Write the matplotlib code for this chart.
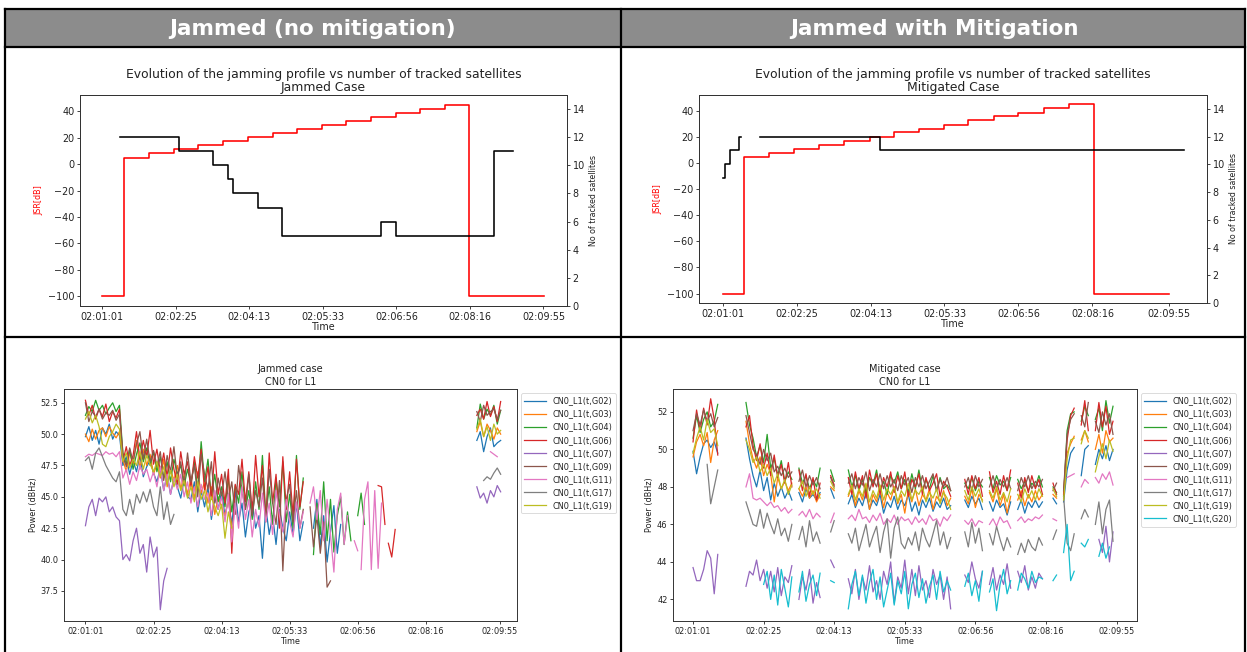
import numpy as np
import matplotlib
matplotlib.use("Agg")
import matplotlib.pyplot as plt
from matplotlib.patches import Rectangle
from matplotlib.lines import Line2D

N = None

# ---------------- data ----------------
time_labels = ['02:01:01', '02:02:25', '02:04:13', '02:05:33', '02:06:56', '02:08:16', '02:09:55']

header_left = 'Jammed (no mitigation)'
header_right = 'Jammed with Mitigation'

# JSR profile (left axis), step breakpoints (x in tick units) and levels
jsr_levels = [-100, 5, 8.1, 11.1, 14.2, 17.3, 20.4, 23.5, 26.5, 29.6, 32.7, 35.8, 38.8, 41.9, 45, -100, -100]
jsr_x_jam = [0, 0.303, 0.643, 0.983, 1.304, 1.649, 1.988, 2.319, 2.649, 2.989, 3.319, 3.650, 3.990, 4.321, 4.656, 4.991, 6.005]
jsr_x_mit = [0, 0.294, 0.628, 0.971, 1.300, 1.644, 1.987, 2.313, 2.656, 2.990, 3.324, 3.663, 4.000, 4.340, 4.680, 5.018, 6.040]

# number of tracked satellites (right axis)
sat_x_jam = [0.249, 1.046, 1.513, 1.707, 1.775, 2.120, 2.446, 3.786, 3.990, 5.326, 5.589]
sat_n_jam = [12, 11, 10, 9, 8, 7, 5, 6, 5, 11, 11]
sat_x_mit_a = [0.0, 0.036, 0.100, 0.217, 0.244]
sat_n_mit_a = [9, 10, 11, 12, 12]
sat_x_mit_b = [0.506, 2.130, 6.240]
sat_n_mit_b = [12, 11, 11]

# CN0 series: list of (segment start, values every 0.05 tick units)
sample_step = 0.05
prn_jam = ['G02', 'G03', 'G04', 'G06', 'G07', 'G09', 'G11', 'G17', 'G19']
prn_mit = ['G02', 'G03', 'G04', 'G06', 'G07', 'G09', 'G11', 'G17', 'G19', 'G20']

jam_G02 = [(0.00, [49.8, 50.6, 49.5, 50.3, 49.2, 50.5, 50.0, 50.8, 49.6, 50.2, 49.9,
                   47.5, 48.2, 46.8, 47.9, 47.0, 48.3, 46.6, 47.4, 47.9, 46.9,
                   46.2, 47.3, 45.5, 46.8, 45.2, 46.5, 45.8, 44.9, 46.4, 45.0,
                   44.8, 46.2, 43.8, 45.5, 44.2, 45.8, 43.2, 45.0, 44.0, 45.4,
                   43.5, 44.8, 42.8, 45.5, 43.0, 44.5, 41.8, 43.8, 44.6, 42.5,
                   43.5, 40.1, 44.2, 42.0, 43.5, 41.2, 44.0, 42.5, 41.5, 43.8,
                   42.0, 44.5, 41.5, 43.0]),
           (3.35, [42.5, 44.8, 41.0, 43.5, 39.8, 42.2, 44.3, 40.5, 42.8]),
           (5.75, [49.5, 50.2, 48.6, 49.8, 50.5, 49.0, 49.3, 49.5])]
jam_G03 = [(0.00, [50.0, 49.4, 50.4, 49.6, 50.3, 50.5, 49.8, 50.6, 50.1, 49.7, 50.2,
                   48.0, 47.0, 48.5, 47.6, 49.5, 47.2, 48.8, 47.5, 48.4, 46.8,
                   47.6, 46.5, 48.0, 45.8, 47.2, 46.3, 47.5, 45.6, 46.8, 45.2,
                   46.5, 44.8, 47.0, 45.3, 46.2, 44.5, 45.8, 43.6, 45.0, 44.2,
                   43.5, 44.8, 42.6]),
           (5.75, [50.2, 51.0, 49.8, 50.8, 50.3, 49.6, 50.5, 50.0])]
jam_G04 = [(0.00, [51.5, 52.2, 51.8, 52.7, 51.9, 52.3, 51.6, 52.1, 52.5, 51.8, 52.3,
                   48.5, 47.6, 48.8, 47.2, 48.4, 49.3, 47.8, 48.9, 47.5, 48.6,
                   47.0, 48.2, 46.5, 47.8, 46.2, 48.0, 46.8, 47.5, 45.9, 47.2,
                   46.0, 47.8, 45.5, 49.4, 46.2, 48.0, 45.0, 46.8, 44.6, 45.8,
                   44.2, 46.5, 43.8, 45.9, 44.5, 47.0, 44.0, 45.5, 43.2, 46.2,
                   44.0, 48.3, 43.5, 45.8, 42.8, 46.5, 44.2, 47.8, 43.0, 45.2,
                   42.5, 48.3, 44.0, 46.5]),
           (3.35, [40.4, 44.5, 42.0, 46.2, 41.5, 44.8, 40.6, 43.5, 45.0, 41.2, 43.8, 41.5]),
           (4.00, [43.5, 45.3, 42.8]),
           (5.75, [50.5, 52.4, 51.2, 52.0, 51.5, 52.3, 50.8, 51.9])]
jam_G06 = [(0.00, [52.7, 51.5, 52.3, 51.2, 52.0, 51.4, 52.4, 51.0, 51.8, 51.3, 52.0,
                   47.8, 49.0, 47.5, 48.3, 50.2, 48.0, 49.5, 48.2, 50.3, 47.6,
                   48.8, 47.0, 48.5, 46.6, 48.9, 47.2, 46.0, 48.6, 46.8, 47.8,
                   45.8, 48.2, 46.5, 48.8, 45.5, 47.4, 44.8, 48.6, 45.2, 46.8,
                   44.5, 47.2, 40.5, 46.0, 45.2, 48.0, 44.6, 47.0, 43.8, 48.3,
                   45.0, 47.5, 43.2, 48.5, 44.5, 46.8, 42.5, 48.2, 44.0, 47.0,
                   43.5, 48.0, 44.2, 46.2]),
           (4.30, [45.9, 45.8, 42.8]),
           (4.45, [41.3, 40.2, 42.4]),
           (5.75, [51.5, 52.0, 51.2, 52.6, 51.4, 52.2, 51.0, 52.6])]
jam_G07 = [(0.00, [42.7, 44.2, 44.8, 43.5, 44.9, 44.6, 45.0, 43.8, 44.2, 43.4, 43.1,
                   40.0, 40.4, 39.9, 41.5, 42.5, 40.5, 41.2, 39.0, 41.8, 40.2,
                   41.0, 36.0, 38.3, 39.3]),
           (5.75, [45.8, 44.9, 45.3, 44.5, 45.5, 45.0, 45.9, 45.4])]
jam_G09 = [(0.00, [52.5, 51.0, 51.8, 51.4, 52.0, 51.2, 51.7, 51.5, 51.9, 51.1, 51.6,
                   48.5, 47.4, 48.9, 47.8, 49.2, 50.2, 48.0, 49.6, 47.8, 48.7,
                   47.5, 48.6, 46.3, 48.3, 47.0, 49.0, 46.5, 47.8, 46.0, 48.5,
                   46.2, 47.5, 45.0, 48.4, 46.8, 45.6, 47.8, 44.5, 46.5, 45.0,
                   47.0, 44.8, 46.2, 43.6, 47.5, 45.5, 44.0, 46.8, 43.5, 45.5,
                   44.2, 46.5, 43.0, 47.2, 44.5, 42.8, 46.3, 39.1, 44.8, 46.0,
                   43.0, 45.5, 42.5, 44.0]),
           (3.30, [44.2, 41.0, 43.5, 40.5, 43.0, 37.8, 38.3]),
           (5.75, [51.8, 51.0, 52.3, 51.5, 51.8, 52.0, 51.2, 51.9])]
jam_G11 = [(0.00, [48.2, 48.4, 48.3, 48.5, 48.4, 48.3, 48.6, 48.4, 48.5, 48.2, 48.6,
                   46.5, 47.2, 46.0, 47.0, 46.3, 47.5, 46.8, 47.2, 46.2, 47.0,
                   45.8, 47.4, 45.5, 46.8, 45.2, 46.5, 45.6, 46.8, 45.0, 46.2,
                   44.5, 45.8, 44.2, 46.0, 44.8, 45.3, 43.5, 45.5, 44.0, 45.0,
                   43.0, 45.2, 41.4, 44.5, 42.5, 45.8, 43.2, 44.8, 41.8, 44.0,
                   42.6, 45.3, 43.0, 44.5, 42.0, 45.5, 43.5, 42.2, 44.8, 43.0,
                   41.8, 44.6, 42.5, 43.8]),
           (3.30, [44.5, 45.8, 43.2, 45.5, 41.5, 44.8, 42.0, 39.0, 44.0, 45.3, 41.2, 43.5]),
           (3.95, [41.5, 40.7]),
           (4.05, [39.2, 44.8, 46.2, 39.2, 45.5, 39.3, 44.5]),
           (5.95, [48.6, 48.4, 48.2])]
jam_G17 = [(0.00, [47.9, 48.2, 47.2, 48.5, 48.9, 48.2, 47.5, 47.0, 46.5, 46.2, 47.0,
                   44.0, 43.5, 44.8, 43.6, 45.2, 44.5, 45.4, 44.6, 45.6, 44.2,
                   43.5, 45.8, 43.2, 44.6, 42.8, 43.6]),
           (5.85, [46.3, 46.6, 46.4, 46.9, 47.3, 46.8])]
jam_G19 = [(0.00, [51.2, 51.8, 50.9, 51.5, 50.6, 49.2, 49.0, 49.8, 50.2, 50.8, 50.4,
                   47.8, 48.5, 47.3, 48.0, 47.5, 48.6, 47.2, 48.3, 47.6, 47.0,
                   47.8, 46.6, 47.4, 46.0, 47.1, 45.8, 46.8, 45.5, 46.3, 44.9,
                   45.8, 44.6, 46.2, 44.8, 45.5, 43.8, 45.0, 44.2, 43.5, 44.4,
                   41.7, 43.8, 42.5]),
           (5.75, [50.4, 51.2, 49.8, 50.6, 49.5, 50.8, 50.0, 50.3])]

mit_G02 = [(0.00, [49.9, 48.7, 49.6, 50.3, 50.5, 50.1, 50.4, 49.8]),
           (0.75, [50.6, 49.5, 48.6, 48.0, 48.9, 47.8, 48.5, 47.3, 48.2, 47.5, 48.0, 47.4, 47.8, 47.3, N, 47.7, 47.2, 47.9, 47.4, 47.6, 47.3, 47.7]),
           (1.95, [47.9, 47.4]),
           (2.20, [47.1, 47.6, 46.9, 47.4, 47.0, 47.7, 46.8, 47.3, 47.0, 47.6, 46.6, 47.2, 46.9, 47.5, 46.8, 47.3, 47.0, 47.6, 46.7, 47.2, 46.5, 47.3, 46.9, 47.4, 46.7, 47.2, 46.9, 47.4, 46.8, 47.0]),
           (3.85, [47.3, 46.9, 47.5, 47.1, 47.4, 46.8, N, 47.2, 46.7, 47.3, 46.9, 47.1, 46.5, 47.2, N, 46.8, 47.3, 46.6, 47.2, 46.9, 47.3, 46.9, 47.2]),
           (5.10, [47.4, 47.1]),
           (5.25, [47.2, 48.9, 49.8, 50.1]),
           (5.50, [48.6, 50.0, 50.2]),
           (5.70, [49.2, 50.0, 49.5, 50.2, 49.4, 50.0])]
mit_G03 = [(0.00, [49.6, 50.4, 50.8, 50.2, 50.9, 49.3, 50.5, 51.0]),
           (0.75, [51.5, 50.3, 49.5, 49.0, 49.6, 48.6, 49.2, 48.7, 47.2, 48.5, 47.9, 48.3, 47.8, 48.2, N, 47.9, 47.5, 48.0, 47.4, 47.8, 47.2, 47.6]),
           (1.95, [48.0, 47.8]),
           (2.20, [47.5, 48.0, 47.0, 47.8, 47.3, 48.1, 46.8, 47.6, 47.2, 47.9, 46.9, 47.7, 47.3, 48.0, 47.1, 47.6, 46.6, 47.8, 47.2, 47.9, 47.0, 47.6, 47.3, 47.9, 46.8, 47.5, 47.2, 47.8, 47.0, 47.4]),
           (3.85, [47.5, 47.1, 47.9, 46.9, 47.6, 47.3, N, 47.7, 47.2, 47.9, 47.0, 47.6, 46.6, 47.5, N, 47.3, 47.8, 47.0, 47.6, 47.2, 47.8, 47.3, 47.6]),
           (5.10, [47.6, 47.4]),
           (5.25, [47.4, 49.8, 50.3, 50.7]),
           (5.50, [50.5, 51.0, 50.4]),
           (5.70, [50.0, 50.8, 49.8, 51.0, 50.4, 50.6])]
mit_G04 = [(0.00, [50.6, 51.8, 50.9, 51.6, 52.0, 51.2, 51.5, 52.4]),
           (0.75, [52.5, 51.3, 50.6, 49.6, 50.2, 49.3, 50.8, 49.0, 49.5, 48.6, 49.4, 48.3, 48.8, 48.4, N, 49.0, 48.2, 48.6, 47.9, 48.4, 48.0, 49.0]),
           (1.95, [48.9, 48.3]),
           (2.20, [48.9, 48.0, 48.6, 47.8, 48.4, 47.7, 48.5, 48.1, 48.9, 47.8, 48.3, 47.6, 48.6, 48.2, 48.8, 47.9, 48.4, 47.7, 48.7, 47.9, 48.9, 47.8, 48.4, 47.9, 48.6, 47.8, 48.5, 47.9, 48.1, 47.8]),
           (3.85, [48.2, 47.9, 48.5, 47.8, 48.3, 48.0, N, 48.5, 47.9, 48.6, 48.1, 48.3, 47.8, 48.5, N, 48.4, 47.9, 48.3, 47.8, 48.2, 48.0, 48.6, 48.0]),
           (5.10, [48.0, 47.7]),
           (5.25, [47.5, 51.0, 51.9, 52.0]),
           (5.50, [51.5, 52.3, 51.8]),
           (5.70, [51.6, 52.2, 51.0, 52.6, 51.4, 52.3])]
mit_G06 = [(0.00, [50.4, 52.1, 51.0, 52.2, 51.3, 52.7, 51.6, 49.7]),
           (0.75, [51.2, 51.8, 50.2, 49.4, 50.3, 49.0, 49.8, 48.6, 49.7, 48.5, 49.2, 48.2, 49.3, 48.0, N, 48.9, 47.8, 48.7, 47.5, 48.5, 47.3, 48.2]),
           (1.95, [48.6, 48.1]),
           (2.20, [48.5, 47.6, 48.8, 47.9, 48.6, 47.4, 48.9, 48.0, 48.7, 47.6, 48.5, 48.0, 48.8, 47.7, 48.6, 47.9, 48.8, 47.5, 48.4, 48.0, 48.7, 47.6, 48.5, 47.8, 48.2, 48.7, 47.5, 48.3, 48.0, 47.5]),
           (3.85, [48.4, 47.6, 48.6, 47.9, 48.5, 47.5, N, 48.8, 47.7, 48.3, 47.6, 48.6, 47.8, 48.9, N, 48.2, 47.4, 48.5, 47.7, 48.6, 47.9, 48.4, 47.6]),
           (5.10, [48.2, 47.6]),
           (5.25, [47.6, 50.5, 51.8, 52.2]),
           (5.50, [51.3, 52.6, 51.0]),
           (5.70, [51.0, 52.5, 51.2, 52.3, 50.8, 51.5])]
mit_G07 = [(0.00, [43.7, 43.0, 43.0, 43.6, 44.6, 44.2, 42.3, 44.4]),
           (0.75, [42.7, 43.5, 43.3, 44.1, 43.0, 43.6, 42.6, 43.5, 42.4, 43.7, 42.2, 43.2, 42.9, 43.8, N, 42.0, 43.2, 42.5, 43.6, 41.8, 42.9, 42.1]),
           (1.95, [44.1, 43.7]),
           (2.20, [43.1, 42.3, 43.6, 42.0, 43.2, 42.5, 43.8, 42.4, 43.0, 42.0, 43.5, 42.8, 44.0, 41.8, 43.2, 42.6, 44.1, 42.3, 43.6, 42.2, 43.8, 42.5, 43.0, 42.1, 43.6, 42.8, 43.3, 42.0, 43.2, 41.5]),
           (3.85, [43.3, 42.9, 44.0, 43.1, 42.6, 43.5, N, 42.8, 43.7, 42.5, 43.3, 42.8, 43.9, 42.6, N, 43.5, 42.9, 43.8, 42.5, 43.2, 42.6, 43.4, 43.1]),
           (5.75, [45.2, 44.5, 45.9, 44.0, 45.6])]
mit_G09 = [(0.00, [51.0, 51.9, 51.3, 52.1, 51.5, 51.9, 51.2, 51.7]),
           (0.75, [51.8, 50.9, 50.0, 49.7, 49.2, 50.0, 49.4, 49.8, 48.8, 49.1, 48.6, 49.0, 48.5, 48.8, N, 48.3, 48.9, 48.0, 48.6, 48.1, 48.5, 47.9]),
           (1.95, [48.5, 48.0]),
           (2.20, [48.2, 48.7, 47.9, 48.5, 48.1, 48.8, 47.8, 48.4, 48.0, 48.7, 47.9, 48.6, 48.0, 48.4, 47.8, 48.6, 48.1, 48.5, 47.7, 48.5, 48.0, 48.6, 47.9, 48.3, 48.7, 47.8, 48.4, 48.0, 48.5, 47.8]),
           (3.85, [48.0, 48.5, 47.8, 48.6, 48.0, 48.4, N, 48.0, 48.6, 47.9, 48.4, 48.0, 48.5, 47.9, N, 47.8, 48.5, 48.0, 48.6, 47.9, 48.3, 48.0, 48.4]),
           (5.10, [47.8, 48.2]),
           (5.25, [47.8, 50.8, 51.6, 51.9]),
           (5.50, [51.8, 51.2, 52.5]),
           (5.70, [51.5, 50.9, 52.0, 51.3, 51.9, 50.8])]
mit_G11 = [(0.75, [48.0, 48.7, 47.4, 47.3, 47.4, 47.2, 47.0, 47.2, 46.9, 47.0, 46.7, 46.9, 46.6, 46.8, N, 46.5, 46.7, 46.4, 46.8, 46.3, 46.6, 46.4]),
           (1.95, [46.1, 46.6]),
           (2.20, [46.3, 46.5, 46.2, 46.8, 46.3, 46.4, 46.1, 46.5, 46.2, 46.6, 46.0, 46.3, 46.1, 46.5, 46.0, 46.4, 46.2, 46.3, 46.0, 46.4, 46.1, 46.3, 46.0, 46.5, 46.2, 46.3, 45.9, 46.4, 46.2, 46.5]),
           (3.85, [46.2, 46.0, 46.3, 45.9, 46.2, 46.1, N, 46.0, 46.3, 45.9, 46.4, 46.1, 46.2, 45.8, N, 46.2, 46.4, 46.1, 46.3, 46.2, 46.4, 46.3, 46.5]),
           (5.10, [46.3, 46.2]),
           (5.30, [48.5, 48.6, 48.7]),
           (5.50, [48.0, 48.4, 48.2]),
           (5.70, [48.5, 48.2, 48.7, 48.4, 48.8, 48.1])]
mit_G17 = [(0.20, [49.2, 47.1, 48.0, 48.9]),
           (0.75, [47.2, 46.6, 46.0, 45.9, 46.8, 45.8, 46.6, 46.0, 45.5, 46.3, 45.4, 45.8, 45.1, 46.0, N, 45.2, 45.9, 44.8, 46.2, 45.1, 45.6, 45.0]),
           (1.95, [45.6, 46.2]),
           (2.20, [45.5, 45.0, 45.8, 44.6, 45.3, 46.0, 44.8, 45.4, 45.9, 44.5, 45.6, 46.3, 44.2, 45.8, 46.4, 45.0, 44.7, 45.3, 44.9, 45.6, 44.6, 45.8, 45.2, 44.8, 45.5, 46.2, 44.9, 45.6, 44.7, 45.3]),
           (3.85, [45.6, 44.8, 46.1, 45.0, 45.8, 44.6, N, 45.5, 44.9, 45.9, 45.2, 44.6, 45.3, 44.8, N, 44.4, 45.0, 44.5, 45.2, 44.8, 44.6, 45.3, 44.9]),
           (5.10, [45.2, 45.7]),
           (5.25, [47.5, 45.0, 44.6, 45.5]),
           (5.50, [46.3, 46.8, 46.4]),
           (5.70, [46.0, 47.2, 45.5, 46.8, 47.3, 45.1])]
mit_G19 = [(0.00, [49.8, 50.6, 51.2, 50.5, 51.6, 50.9, 51.1, 50.2]),
           (0.75, [50.5, 50.0, 49.3, 49.6, 48.8, 49.2, 48.6, 49.0, 48.2, 48.7, 47.9, 48.4, 47.6, 48.1, N, 47.9, 48.3, 47.5, 48.0, 47.6, 47.9, 47.4]),
           (1.95, [48.3, 47.9]),
           (2.20, [47.6, 48.1, 47.3, 47.9, 47.5, 48.2, 47.2, 47.8, 47.4, 48.1, 47.3, 47.9, 47.6, 48.0, 47.2, 47.8, 47.5, 48.2, 47.3, 47.8, 47.6, 48.0, 47.2, 47.7, 47.4, 47.9, 47.1, 47.7, 47.4, 46.8]),
           (3.85, [47.8, 47.3, 48.0, 47.5, 47.9, 47.2, N, 47.8, 47.4, 48.0, 47.3, 47.7, 47.2, 47.9, N, 47.6, 47.2, 47.9, 47.4, 47.8, 47.3, 47.9, 47.5]),
           (5.10, [47.9, 47.5]),
           (5.25, [47.3, 49.5, 50.5, 50.6]),
           (5.50, [50.3, 51.0, 50.6]),
           (5.70, [48.8, 49.6, 50.3, 49.5, 50.5, 49.9])]
mit_G20 = [(1.00, [42.8, 43.5, 42.0, 43.3, 41.7, 43.6, 42.6, 41.6, 43.2, N, 42.4, 43.5, 41.9, 42.8, 43.3, 42.2, 43.4]),
           (1.95, [43.0, 42.9]),
           (2.20, [41.5, 42.8, 43.5, 42.2, 43.3, 41.8, 42.9, 43.6, 42.0, 43.2, 41.6, 42.5, 43.4, 41.7, 43.0, 42.3, 43.5, 41.5, 42.8, 43.4, 42.1, 43.1, 41.8, 42.7, 43.3, 42.0, 43.5, 42.4, 43.0, 42.5]),
           (3.85, [42.7, 43.4, 42.2, 43.0, 41.9, 43.5, N, 42.4, 43.1, 41.4, 42.8, 43.6, 42.3, 43.0, N, 42.5, 43.4, 43.1, 42.6, 43.5, 42.9, 43.2, 43.1]),
           (5.10, [43.0, 43.3]),
           (5.25, [44.5, 46.0, 43.0, 43.5]),
           (5.50, [45.0, 44.8, 45.2]),
           (5.65, [42.7, N, 44.3, 45.0, 44.2, 44.8])]

jam_series = [jam_G02, jam_G03, jam_G04, jam_G06, jam_G07, jam_G09, jam_G11, jam_G17, jam_G19]
mit_series = [mit_G02, mit_G03, mit_G04, mit_G06, mit_G07, mit_G09, mit_G11, mit_G17, mit_G19, mit_G20]

# ---------------- figure ----------------
W, H = 1247, 652
fig = plt.figure(figsize=(W / 100, H / 100), dpi=100)
plt.rcParams['font.family'] = ['DejaVu Sans']
TXT = '#222222'


def px_axes(x0, y0, x1, y1):
    return fig.add_axes([x0 / W, 1 - y1 / H, (x1 - x0) / W, (y1 - y0) / H])


def fy(y):
    return 1 - y / H


# table frame
fig.patches.append(Rectangle((5 / W, fy(47)), 1240 / W, 38 / H, transform=fig.transFigure,
                             facecolor='#8c8c8c', edgecolor='none', zorder=0))
for (xa, ya, xb, yb) in [(5, 9, 1245, 9), (5, 47, 1245, 47), (5, 337, 1245, 337),
                         (5, 9, 5, 652), (621, 9, 621, 652), (1245, 9, 1245, 652)]:
    fig.lines.append(Line2D([xa / W, xb / W], [fy(ya), fy(yb)], transform=fig.transFigure,
                            color='black', lw=1.6, zorder=1))
fig.text(313 / W, fy(29), header_left, color='white', fontsize=15.5, fontweight='bold',
         ha='center', va='center')
fig.text(934 / W, fy(29), header_right, color='white', fontsize=15.5, fontweight='bold',
         ha='center', va='center')


def style_axes(ax, fs):
    ax.tick_params(labelsize=fs, colors=TXT, length=2.5, width=0.6, pad=1.5)
    for s in ax.spines.values():
        s.set_linewidth(0.7)
        s.set_color('#333333')


def top_chart(ax, jx, sx_list, sn_list, subtitle, xlim, last_tick):
    style_axes(ax, 6.9)
    ax.step(jx, jsr_levels, where='post', color='red', lw=1.15)
    ax.set_ylabel('JSR[dB]', color='red', fontsize=5.8, labelpad=3)
    ax.set_yticks([-100, -80, -60, -40, -20, 0, 20, 40])
    ax.set_xlim(*xlim)
    ax.set_xticks([0, 1, 2, 3, 4, 5, last_tick])
    ax.set_xticklabels(time_labels)
    ax.set_xlabel('Time', fontsize=6.9, color=TXT, labelpad=0.5)
    ax.set_title('Evolution of the jamming profile vs number of tracked satellites\n' + subtitle,
                 fontsize=8.9, color=TXT, pad=3.0, linespacing=0.95)
    ax2 = ax.twinx()
    style_axes(ax2, 6.9)
    for sx, sn in zip(sx_list, sn_list):
        ax2.step(sx, sn, where='post', color='black', lw=1.15)
    ax2.set_ylim(0, 15)
    ax2.set_yticks([0, 2, 4, 6, 8, 10, 12, 14])
    ax2.set_ylabel('No of tracked satellites', fontsize=5.7, color=TXT, labelpad=3)
    ax2.set_xlim(*xlim)


ax_tl = px_axes(80, 95, 567, 306)
top_chart(ax_tl, jsr_x_jam, [sat_x_jam], [sat_n_jam], 'Jammed Case', (-0.30, 6.32), 6.0)
ax_tr = px_axes(699, 95, 1207, 303)
top_chart(ax_tr, jsr_x_mit, [sat_x_mit_a, sat_x_mit_b], [sat_n_mit_a, sat_n_mit_b],
          'Mitigated Case', (-0.32, 6.55), 6.03)


def build(series):
    xs, ys = [], []
    for start, vals in series:
        for k, v in enumerate(vals):
            xs.append(start + sample_step * k)
            ys.append(np.nan if v is None else v)
        xs.append(np.nan)
        ys.append(np.nan)
    return np.array(xs), np.array(ys)


def bottom_chart(ax, series, prns, title, xlim, ylim, last_tick):
    style_axes(ax, 5.9)
    for s, p in zip(series, prns):
        x, y = build(s)
        ax.plot(x, y, lw=0.9, label='CN0_L1(t,%s)' % p)
    ax.set_xlim(*xlim)
    ax.set_ylim(*ylim)
    ax.set_xticks([0, 1, 2, 3, 4, 5, last_tick])
    ax.set_xticklabels(time_labels)
    ax.set_xlabel('Time', fontsize=5.9, color=TXT, labelpad=1)
    ax.set_ylabel('Power (dBHz)', fontsize=5.9, color=TXT, labelpad=2)
    ax.set_title(title, fontsize=7.0, color=TXT, pad=3.0, linespacing=1.3)
    leg = ax.legend(loc='upper left', bbox_to_anchor=(1.0, 1.0), fontsize=5.9,
                    handlelength=2.6, borderaxespad=0.5, labelspacing=0.5, frameon=True)
    leg.get_frame().set_linewidth(0.6)
    for t in leg.get_texts():
        t.set_color(TXT)


ax_bl = px_axes(64, 389, 517, 621)
bottom_chart(ax_bl, jam_series, prn_jam, 'Jammed case\nCN0 for L1', (-0.315, 6.34), (35.1, 53.6), 6.09)
ax_br = px_axes(673, 389, 1137, 621)
bottom_chart(ax_br, mit_series, prn_mit, 'Mitigated case\nCN0 for L1', (-0.284, 6.29), (40.85, 53.22), 6.0)

fig.savefig('out.png', dpi=100)
